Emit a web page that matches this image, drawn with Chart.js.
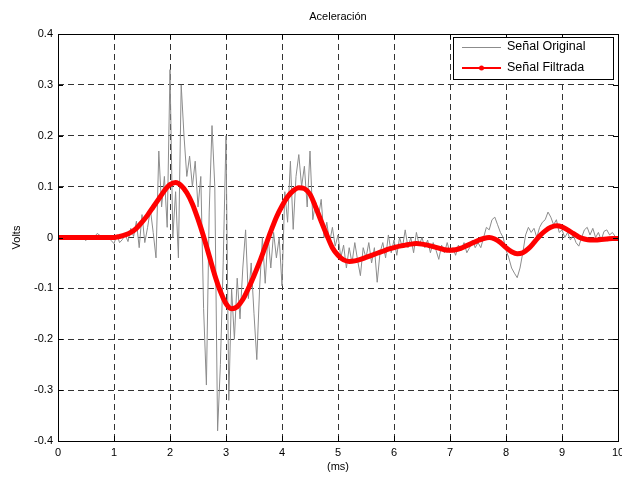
<!DOCTYPE html>
<html>
<head>
<meta charset="utf-8">
<script src="https://cdn.jsdelivr.net/npm/chart.js@4"></script>
<style>
html,body{margin:0;padding:0;background:#fff;}
#wrap{width:622px;height:477px;}
</style>
</head>
<body>
<div id="wrap"><canvas id="c" width="622" height="477"></canvas></div>
<script>
// ---- DATA ----
const chartTitle = "Aceleración";
const xTitle = "(ms)";
const yTitle = "Volts";
const seriesNames = ["Señal Original", "Señal Filtrada"];
const xTicks = [0,1,2,3,4,5,6,7,8,9,10];
const yTicks = [-0.4,-0.3,-0.2,-0.1,0,0.1,0.2,0.3,0.4];

// raw signal, sampled every 0.05 ms from 0 to 10 ms
const rawStep = 0.05;
const rawSignal = [
 0, 0.001, 0, -0.001, 0.001, 0, -0.001, 0.002, 0, -0.002,
 -0.006, 0.002, 0, 0.001, 0.008, 0.004, 0.001, 0, 0.002, -0.006,
 -0.012, 0.005, -0.01, -0.004, 0.006, -0.008, 0.018, 0.002, 0.032, -0.02,
 0.045, -0.01, 0.02, 0.055, 0.01, -0.04, 0.17, 0.06, 0.12, 0.02,
 0.33, 0.0, 0.09, -0.04, 0.30, 0.2, 0.12, 0.16, 0.1, 0.15,
 0.06, 0.12, -0.14, -0.29, 0.05, 0.22, 0.1, -0.38, -0.25, -0.05,
 0.2, -0.32, -0.1, -0.2, -0.08, -0.16, -0.06, 0.015, -0.12, -0.05,
 -0.15, -0.24, -0.1, 0.0, -0.09, 0.005, -0.06, 0.01, -0.04, 0.0,
 -0.095, 0.09, 0.03, 0.15, 0.016, 0.12, 0.163, 0.1, 0.14, 0.06,
 0.17, 0.035, 0.07, 0.04, 0.075, 0.0, 0.03, -0.01, 0.02, -0.017,
 0.005, -0.04, -0.015, -0.06, -0.02, -0.05, -0.01, -0.045, -0.075, -0.02,
 -0.04, -0.01, -0.05, -0.02, -0.088, -0.03, -0.01, -0.04, 0.005, -0.03,
 -0.005, -0.035, 0.0, -0.02, 0.015, -0.02, 0.0, -0.03, 0.01, -0.015,
 0.0, -0.02, -0.005, -0.03, -0.01, -0.025, -0.043, -0.015, -0.03, -0.01,
 -0.03, -0.02, -0.035, -0.015, -0.025, -0.01, -0.03, -0.02, -0.005, -0.02,
 -0.01, -0.02, 0.0, 0.02, 0.015, 0.035, 0.04, 0.025, 0.01, 0.0,
 -0.025, -0.04, -0.06, -0.07, -0.079, -0.06, -0.03, 0.005, 0.02, 0.01,
 0.018, 0.0, 0.02, 0.03, 0.035, 0.05, 0.04, 0.025, 0.035, 0.01,
 0.015, 0.0, 0.01, -0.005, 0.005, -0.01, -0.017, 0.0, 0.015, 0.02,
 0.005, 0.018, 0.0, 0.01, -0.005, 0.012, 0.015, 0.005, 0.01, 0.002,
 0
];

// filtered signal, sampled every 0.1 ms from 0 to 10 ms
const filtStep = 0.1;
const filteredSignal = [
 0, 0, 0, 0, 0, 0, 0, 0, 0, 0,
 0.0, 0.002, 0.005, 0.01, 0.018, 0.03, 0.044, 0.06, 0.076, 0.092,
 0.104, 0.108, 0.102, 0.088, 0.066, 0.036, 0.002, -0.036, -0.074, -0.106,
 -0.13, -0.14, -0.136, -0.122, -0.1, -0.075, -0.048, -0.018, 0.012, 0.04,
 0.062, 0.08, 0.092, 0.098, 0.096, 0.085, 0.06, 0.032, 0.005, -0.02,
 -0.035, -0.044, -0.047, -0.046, -0.043, -0.039, -0.035, -0.031, -0.027, -0.023,
 -0.02, -0.017, -0.015, -0.013, -0.012, -0.013, -0.015, -0.018, -0.021, -0.024,
 -0.025, -0.024, -0.021, -0.016, -0.011, -0.006, -0.002, 0.0, -0.003, -0.01,
 -0.02, -0.028, -0.032, -0.03, -0.022, -0.01, 0.003, 0.013, 0.02, 0.023,
 0.021, 0.015, 0.008, 0.001, -0.003, -0.005, -0.005, -0.004, -0.003, -0.002,
 -0.002
];

const rawPoints = rawSignal.map((v,i)=>({x: +(i*rawStep).toFixed(3), y: v}));
const filtPoints = filteredSignal.map((v,i)=>({x: +(i*filtStep).toFixed(3), y: v}));

const FONT = "'Liberation Sans', Arial, sans-serif";

const frame = {
  id: 'frame',
  afterDatasetsDraw(chart){
    const ctx = chart.ctx, a = chart.chartArea;
    const xs = chart.scales.x, ys = chart.scales.y;
    ctx.save();
    // box
    ctx.strokeStyle = '#000'; ctx.lineWidth = 1;
    ctx.strokeRect(Math.round(a.left)+0.5, Math.round(a.top)+0.5, Math.round(a.right-a.left), Math.round(a.bottom-a.top));
    // inner tick marks
    ctx.beginPath();
    xTicks.forEach(t=>{
      const px = Math.round(xs.getPixelForValue(t))+0.5;
      ctx.moveTo(px, a.bottom); ctx.lineTo(px, a.bottom-5);
      ctx.moveTo(px, a.top); ctx.lineTo(px, a.top+5);
    });
    yTicks.forEach(t=>{
      const py = Math.round(ys.getPixelForValue(t))+0.5;
      ctx.moveTo(a.left, py); ctx.lineTo(a.left+5, py);
      ctx.moveTo(a.right, py); ctx.lineTo(a.right-5, py);
    });
    ctx.stroke();
    // legend
    const lx = 453, ly = 37, lw = 160, lh = 42;
    ctx.fillStyle = '#fff';
    ctx.fillRect(lx, ly, lw, lh);
    ctx.strokeStyle = '#000';
    ctx.strokeRect(lx+0.5, ly+0.5, lw, lh);
    ctx.font = '12.5px ' + FONT;
    ctx.textBaseline = 'middle';
    ctx.fillStyle = '#000';
    // row 1
    ctx.strokeStyle = '#8c8c8c'; ctx.lineWidth = 1;
    ctx.beginPath(); ctx.moveTo(462, 47.5); ctx.lineTo(501, 47.5); ctx.stroke();
    ctx.fillText(seriesNames[0], 507, 47);
    // row 2
    ctx.strokeStyle = '#ff0000'; ctx.lineWidth = 2;
    ctx.beginPath(); ctx.moveTo(462, 68); ctx.lineTo(501, 68); ctx.stroke();
    ctx.fillStyle = '#ff0000';
    ctx.beginPath(); ctx.arc(481.5, 68, 2.5, 0, Math.PI*2); ctx.fill();
    ctx.fillStyle = '#000';
    ctx.fillText(seriesNames[1], 507, 68);
    // title
    ctx.font = '11px ' + FONT;
    ctx.textAlign = 'center';
    ctx.fillText(chartTitle, (a.left+a.right)/2, 17);
    ctx.restore();
  }
};

new Chart(document.getElementById('c'), {
  type: 'line',
  data: {
    datasets: [
      {
        label: seriesNames[1],
        data: filtPoints,
        borderColor: '#ff0000',
        backgroundColor: '#ff0000',
        borderWidth: 5,
        pointRadius: 0,
        cubicInterpolationMode: 'monotone',
        order: 0
      },
      {
        label: seriesNames[0],
        data: rawPoints,
        borderColor: '#8c8c8c',
        backgroundColor: '#8c8c8c',
        borderWidth: 1,
        pointRadius: 0,
        tension: 0,
        order: 1
      }
    ]
  },
  options: {
    responsive: false,
    animation: false,
    layout: { padding: { top: 34, right: 4, left: 0, bottom: 0 } },
    plugins: { legend: { display: false }, tooltip: { enabled: false }, title: { display: false } },
    scales: {
      x: {
        type: 'linear', min: 0, max: 10,
        afterBuildTicks(s){ s.ticks = xTicks.map(v=>({value:v})); },
        afterFit(s){ s.height = 36; s.paddingLeft = 0; s.paddingRight = 0; },
        grid: { color: '#333', lineWidth: 1, drawTicks: false },
        border: { display: false, dash: [6,4] },
        ticks: { color: '#000', font: { family: FONT, size: 11 }, padding: 5, maxRotation: 0, callback: v => String(v) },
        title: { display: true, text: xTitle, color: '#000', font: { family: FONT, size: 11 }, padding: { top: 0, bottom: 3 } }
      },
      y: {
        type: 'linear', min: -0.4, max: 0.4,
        afterBuildTicks(s){ s.ticks = yTicks.map(v=>({value:v})); },
        afterFit(s){ s.width = 58; s.paddingTop = 0; s.paddingBottom = 0; },
        grid: { color: '#333', lineWidth: 1, drawTicks: false },
        border: { display: false, dash: [6,4] },
        ticks: { color: '#000', font: { family: FONT, size: 11 }, padding: 5, callback: v => (Math.abs(v) < 1e-9 ? '0' : String(+v.toFixed(1))) },
        title: { display: true, text: yTitle, color: '#000', font: { family: FONT, size: 11 }, padding: 10 }
      }
    }
  },
  plugins: [frame]
});
</script>
</body>
</html>
